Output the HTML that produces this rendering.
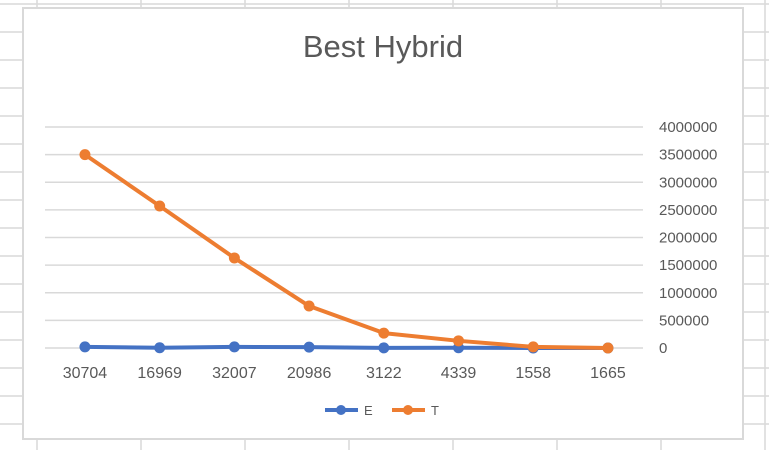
<!DOCTYPE html>
<html><head><meta charset="utf-8"><style>
html,body{margin:0;padding:0;background:#fff;}
svg{display:block;font-family:"Liberation Sans",Arial,sans-serif;}
</style></head><body>
<svg id="c" width="769" height="450">
<g id="sheet"></g>
<rect x="23" y="8" width="720" height="431" fill="#fff" stroke="#d9d9d9" stroke-width="2"/>
<text x="383" y="57" text-anchor="middle" font-size="31" fill="#595959">Best Hybrid</text>
<g id="grid"></g><g id="ylab"></g><g id="xlab"></g><g id="series"></g>
<g>
<g><line x1="325" y1="410" x2="358" y2="410" stroke="#4472c4" stroke-width="4"/><circle cx="341" cy="410" r="5" fill="#4472c4"/><text x="364" y="415" font-size="13" fill="#595959">E</text></g>
<g><line x1="392" y1="410" x2="425" y2="410" stroke="#ed7d31" stroke-width="4"/><circle cx="408" cy="410" r="5" fill="#ed7d31"/><text x="431" y="415" font-size="13" fill="#595959">T</text></g>
</g>
</svg>
<script>
const categories=["30704","16969","32007","20986","3122","4339","1558","1665"];
const seriesE=[20000,5000,20000,15000,3000,5000,1000,0];
const seriesT=[3500000,2570000,1630000,760000,270000,130000,20000,0];
const yTicks=[0,500000,1000000,1500000,2000000,2500000,3000000,3500000,4000000];
const NS="http://www.w3.org/2000/svg";
const GX0=45,GX1=643,X0=47.6,X1=645.3,Y0=348,Y1=127,YMAX=4000000;
const step=(X1-X0)/categories.length;
function xs(i){return X0+step*(i+0.5);}
function ys(v){return Y0-(v/YMAX)*(Y0-Y1);}
function mk(tag,attrs,parent){const e=document.createElementNS(NS,tag);for(const k in attrs)e.setAttribute(k,attrs[k]);parent.appendChild(e);return e;}
const sheet=document.getElementById('sheet');
for(let y=4;y<450;y+=28){const l=mk('line',{x1:0,x2:769,y1:y,y2:y,stroke:'#d9d9d9','stroke-width':1.5},sheet);

}
for(let x=37;x<769;x+=104){const l=mk('line',{x1:x,x2:x,y1:0,y2:450,stroke:'#d9d9d9','stroke-width':1.5},sheet);

}
const grid=document.getElementById('grid'),ylab=document.getElementById('ylab');
yTicks.forEach(v=>{const y=ys(v);
const l=mk('line',{x1:GX0,x2:GX1,y1:y,y2:y,stroke:'#d9d9d9','stroke-width':1.5},grid);


const t=mk('text',{x:659,y:y+5,'font-size':15,fill:'#595959'},ylab);t.textContent=v;

});
const xlab=document.getElementById('xlab');
categories.forEach((c,i)=>{const t=mk('text',{x:xs(i),y:378,'font-size':16,fill:'#595959','text-anchor':'middle'},xlab);t.textContent=c;

});
const sg=document.getElementById('series');
[[seriesE,'#4472c4','e'],[seriesT,'#ed7d31','t']].forEach(([d,col,n])=>{
const p=mk('polyline',{points:d.map((v,i)=>xs(i)+','+ys(v)).join(' '),fill:'none',stroke:col,'stroke-width':4,'stroke-linejoin':'round'},sg);


d.forEach((v,i)=>{const c=mk('circle',{cx:xs(i),cy:ys(v),r:5.5,fill:col},sg);

});});
</script>
</body></html>
